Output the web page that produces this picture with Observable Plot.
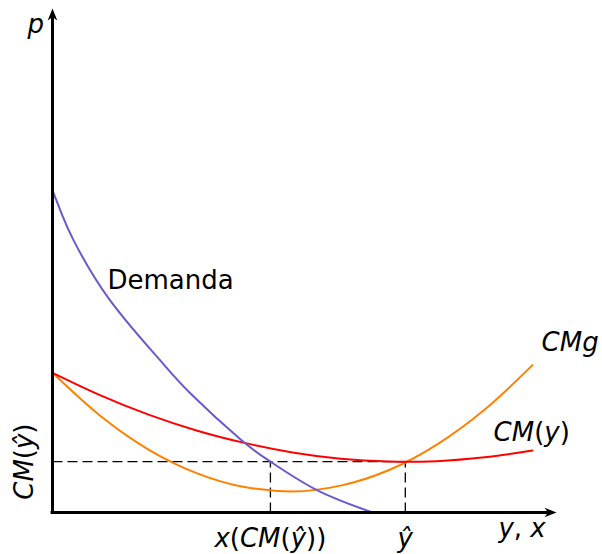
<!DOCTYPE html>
<html>
<head>
<meta charset="utf-8">
<script src="https://cdn.jsdelivr.net/npm/d3@7"></script>
<script src="https://cdn.jsdelivr.net/npm/@observablehq/plot@0.6"></script>
<style>
  body { margin: 0; background: #fff; }
  #chart svg { display: block; }
</style>
</head>
<body>
<div id="chart"></div>
<script>
// Demand curve
const demandX = [0, 0.2, 0.44, 1.17, 2.19, 2.875, 3.92, 4.54, 5.52, 6.67];
const demandY = [6.71, 6.2, 5.67, 4.46, 3.23, 2.48, 1.52, 1.06, 0.46, 0];
// Average cost CM(y)
const cmX = [0, 0.5, 1, 2, 3, 4, 5, 6, 7, 7.35, 8, 9, 10];
const cmY = [2.91, 2.67, 2.44, 2.04, 1.71, 1.45, 1.25, 1.12, 1.06, 1.055, 1.07, 1.15, 1.29];
// Marginal cost CMg
const cmgX = [0, 1, 2, 3, 4, 5, 6, 7, 8, 9, 10];
const cmgY = [2.91, 2.01, 1.31, 0.82, 0.53, 0.44, 0.56, 0.88, 1.41, 2.14, 3.07];
// Key values
const yHat = 7.35;          // ŷ
const cmAtYHat = 1.06;      // CM(ŷ)
const xAtCm = 4.54;         // x(CM(ŷ))
const axisEnd = 10.5;

const demand = demandX.map((x, i) => ({x, y: demandY[i]}));
const cm = cmX.map((x, i) => ({x, y: cmY[i]}));
const cmg = cmgX.map((x, i) => ({x, y: cmgY[i]}));

const dashed = [
  {x1: 0, y1: cmAtYHat, x2: yHat, y2: cmAtYHat},
  {x1: yHat, y1: 0, x2: yHat, y2: cmAtYHat},
  {x1: xAtCm, y1: 0, x2: xAtCm, y2: cmAtYHat}
];

const italicLabels = [
  {x: -0.35, y: 10.17, text: "p", anchor: "middle"},
  {x: 10.19, y: 3.53, text: "CMg", anchor: "start"},
  {x: 9.19, y: 1.67, text: "CM(y)", anchor: "start"},
  {x: 9.29, y: -0.34, text: "y, x", anchor: "start"},
  {x: xAtCm, y: -0.55, text: "x(CM(ŷ))", anchor: "middle"},
  {x: yHat, y: -0.55, text: "ŷ", anchor: "middle"}
];
const rotatedLabels = [{x: -0.58, y: cmAtYHat, text: "CM(ŷ)"}];
const plainLabels = [{x: 1.146, y: 4.84, text: "Demanda"}];

const arrowHead = {
  draw(context, size) {
    const s = Math.sqrt(size / Math.PI);
    context.moveTo(0, 0);
    context.lineTo(-2 * s, -0.8 * s);
    context.lineTo(-1.4 * s, 0);
    context.lineTo(-2 * s, 0.8 * s);
    context.closePath();
  }
};
const arrows = [
  {x: axisEnd, y: 0, rot: 0},
  {x: 0, y: axisEnd, rot: -90}
];

const font = "DejaVu Sans, sans-serif";

const plot = Plot.plot({
  width: 602,
  height: 554,
  marginLeft: 52,
  marginRight: 70,
  marginTop: 32,
  marginBottom: 42,
  x: {domain: [0, 10], axis: null},
  y: {domain: [0, 10], axis: null},
  marks: [
    Plot.link(dashed, {x1: "x1", y1: "y1", x2: "x2", y2: "y2", stroke: "#000", strokeWidth: 1.3, strokeDasharray: "10,5"}),
    Plot.line(cmg, {x: "x", y: "y", stroke: "#ff8000", strokeWidth: 2, curve: "monotone-x"}),
    Plot.line(cm, {x: "x", y: "y", stroke: "#ff0000", strokeWidth: 2, curve: "monotone-x"}),
    Plot.line(demand, {x: "x", y: "y", stroke: "#6a5acd", strokeWidth: 2, curve: "natural"}),
    Plot.ruleY([0], {x1: -0.03, x2: axisEnd - 0.15, stroke: "#000", strokeWidth: 3}),
    Plot.ruleX([0], {y1: -0.03, y2: axisEnd - 0.15, stroke: "#000", strokeWidth: 3}),
    Plot.dot(arrows, {x: "x", y: "y", rotate: "rot", symbol: arrowHead, r: 6, fill: "#000", stroke: "none"}),
    Plot.text(italicLabels, {x: "x", y: "y", text: "text", textAnchor: "start", fontFamily: font, fontSize: 26, fontStyle: "italic", fill: "#000",
      filter: d => d.anchor === "start"}),
    Plot.text(italicLabels, {x: "x", y: "y", text: "text", textAnchor: "middle", fontFamily: font, fontSize: 26, fontStyle: "italic", fill: "#000",
      filter: d => d.anchor === "middle"}),
    Plot.text(rotatedLabels, {x: "x", y: "y", text: "text", rotate: -90, textAnchor: "middle", fontFamily: font, fontSize: 26, fontStyle: "italic", fill: "#000"}),
    Plot.text(plainLabels, {x: "x", y: "y", text: "text", textAnchor: "start", fontFamily: font, fontSize: 26, fill: "#000"})
  ]
});

// Keep parentheses and commas upright inside italic math labels
d3.select(plot).selectAll("g[font-style='italic'] text").each(function() {
  const t = this.textContent;
  if (!/[(),]/.test(t)) return;
  const el = d3.select(this);
  el.text(null);
  t.split(/([(),])/).filter(s => s.length).forEach(s => {
    const ts = el.append("tspan").text(s);
    if (/[(),]/.test(s)) ts.attr("font-style", "normal");
  });
});

document.getElementById("chart").appendChild(plot);
</script>
</body>
</html>
